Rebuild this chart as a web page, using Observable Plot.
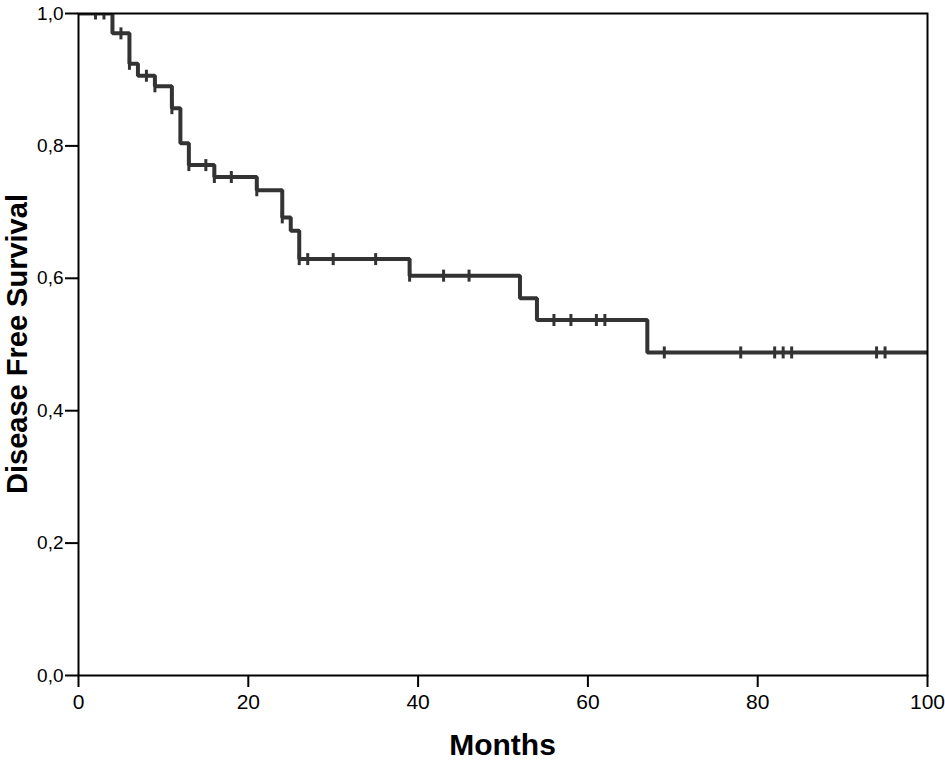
<!DOCTYPE html>
<html>
<head>
<meta charset="utf-8">
<script src="https://cdn.jsdelivr.net/npm/d3@7"></script>
<script src="https://cdn.jsdelivr.net/npm/@observablehq/plot@0.6"></script>
<style>
  html, body { margin: 0; padding: 0; background: #fff; }
  #chart svg { display: block; }
</style>
</head>
<body>
<div id="chart"></div>
<script>
// Kaplan–Meier step curve (time in months, survival proportion)
const stepTimes = [0, 4, 6, 7, 9, 11, 12, 13, 16, 21, 24, 25, 26, 39, 52, 54, 67];
const stepSurv  = [1.0, 0.970, 0.924, 0.906, 0.890, 0.857, 0.804, 0.771, 0.753, 0.733, 0.692, 0.672, 0.629, 0.604, 0.570, 0.537, 0.488];
const endTime = 100;
// censored observations (months)
const censorTimes = [2, 3, 5, 6, 8, 9, 11, 13, 15, 16, 18, 21, 24, 26, 27, 30, 35, 39, 43, 46, 56, 58, 61, 62, 69, 78, 82, 83, 84, 94, 95];
const xTicks = [0, 20, 40, 60, 80, 100];
const yTicks = [0, 0.2, 0.4, 0.6, 0.8, 1.0];

const curve = stepTimes.map((t, i) => ({t, s: stepSurv[i]}));
curve.push({t: endTime, s: stepSurv[stepSurv.length - 1]});

function survAt(t) {
  let s = stepSurv[0];
  for (let i = 0; i < stepTimes.length; i++) if (stepTimes[i] <= t) s = stepSurv[i];
  return s;
}
const censors = censorTimes.map(t => ({t, s: survAt(t)}));

const vbar = {
  draw(context) {
    context.moveTo(0, -6);
    context.lineTo(0, 6);
  }
};

const FONT = "'Liberation Sans', Arial, Helvetica, sans-serif";
const W = 945, H = 761;
const mL = 78, mR = 18, mT = 13, mB = 86;

const plot = Plot.plot({
  width: W,
  height: H,
  marginLeft: mL,
  marginRight: mR,
  marginTop: mT,
  marginBottom: mB,
  style: {fontFamily: FONT, background: "#fff", color: "#000", overflow: "visible"},
  x: {domain: [0, 100]},
  y: {domain: [0, 1]},
  marks: [
    Plot.line(curve, {x: "t", y: "s", curve: "step-after", stroke: "#333", strokeWidth: 4, strokeLinejoin: "miter", strokeLinecap: "square", clip: true}),
    Plot.dot(censors, {x: "t", y: "s", symbol: vbar, stroke: "#333", strokeWidth: 3, fill: "none", clip: true}),
    Plot.frame({stroke: "#000", strokeWidth: 2}),
    Plot.axisX({ticks: xTicks, tickSize: 12, tickPadding: 7, tickFormat: d => String(d), fontSize: 21, label: null, stroke: "#000", strokeWidth: 2}),
    Plot.axisY({ticks: yTicks, tickSize: 13, tickPadding: 2, tickFormat: d => d.toFixed(1).replace(".", ","), fontSize: 19, label: null, stroke: "#000", strokeWidth: 2})
  ]
});

const svg = d3.select(plot);
svg.append("text")
  .attr("transform", `translate(27,${(mT + (H - mB)) / 2}) rotate(-90)`)
  .attr("text-anchor", "middle")
  .attr("font-family", FONT)
  .attr("font-weight", "bold")
  .attr("font-size", 29)
  .attr("fill", "#000")
  .text("Disease Free Survival");
svg.append("text")
  .attr("x", (mL + (W - mR)) / 2)
  .attr("y", 755)
  .attr("text-anchor", "middle")
  .attr("font-family", FONT)
  .attr("font-weight", "bold")
  .attr("font-size", 30)
  .attr("fill", "#000")
  .text("Months");

document.getElementById("chart").appendChild(plot);
</script>
</body>
</html>
